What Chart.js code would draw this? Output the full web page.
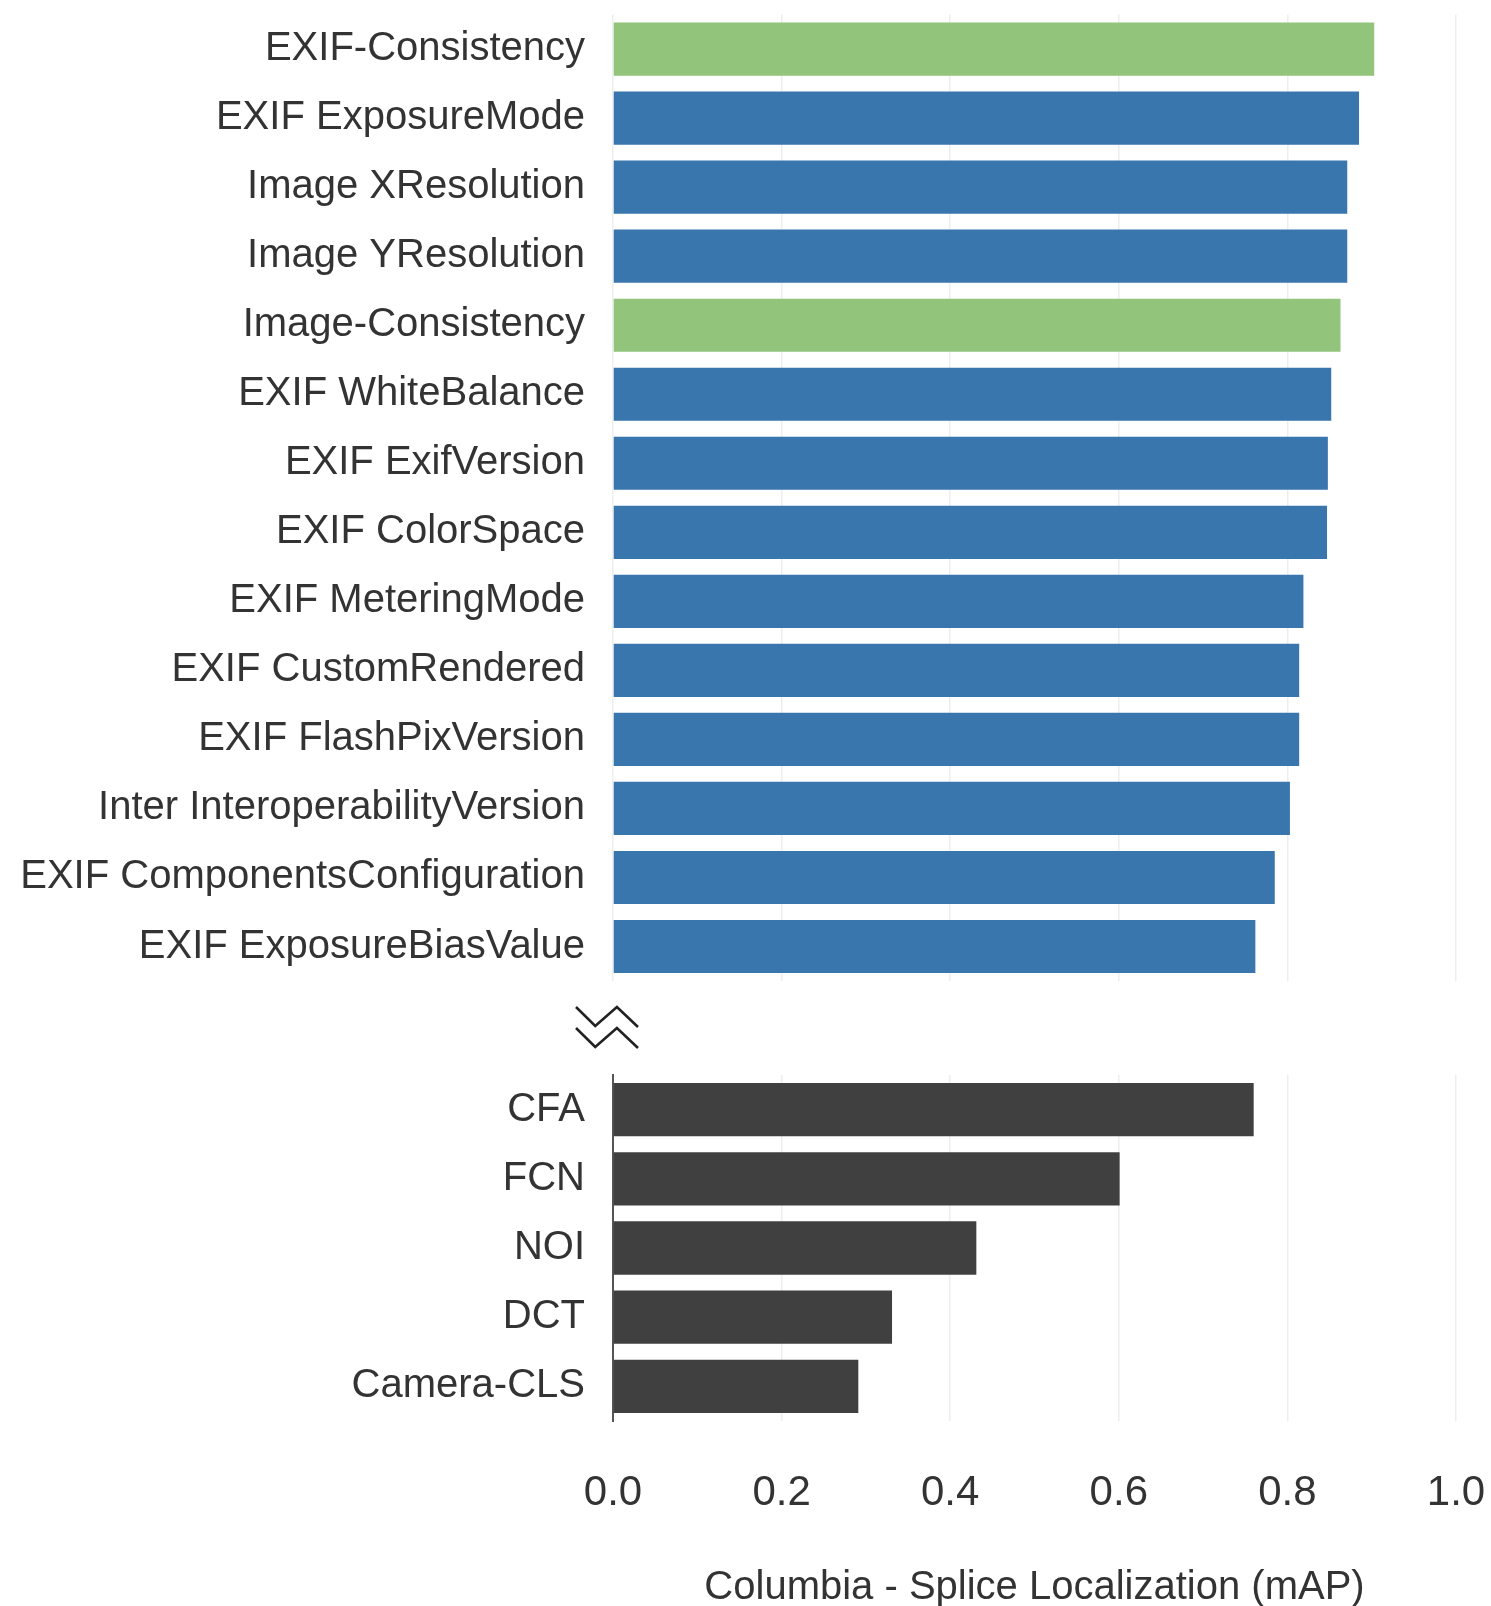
<!DOCTYPE html>
<html>
<head>
<meta charset="utf-8">
<script src="https://cdn.jsdelivr.net/npm/chart.js@4/dist/chart.umd.min.js"></script>
<style>
  html, body { margin: 0; padding: 0; background: #ffffff; width: 1491px; height: 1606px; overflow: hidden; }
  .wrap { position: absolute; left: 0; width: 1491px; }
</style>
</head>
<body>
<div class="wrap" style="top:0;height:1057px"><canvas id="topChart"></canvas></div>
<div class="wrap" style="top:1057px;height:549px"><canvas id="bottomChart"></canvas></div>
<script>
// ---- data ----
const topCategories = [
  'EXIF-Consistency', 'EXIF ExposureMode', 'Image XResolution', 'Image YResolution',
  'Image-Consistency', 'EXIF WhiteBalance', 'EXIF ExifVersion', 'EXIF ColorSpace',
  'EXIF MeteringMode', 'EXIF CustomRendered', 'EXIF FlashPixVersion',
  'Inter InteroperabilityVersion', 'EXIF ComponentsConfiguration', 'EXIF ExposureBiasValue'
];
const topValues = [0.903, 0.885, 0.871, 0.871, 0.863, 0.852, 0.848, 0.847, 0.819, 0.814, 0.814, 0.803, 0.785, 0.762];
const topIsConsistency = [true, false, false, false, true, false, false, false, false, false, false, false, false, false];

const bottomCategories = ['CFA', 'FCN', 'NOI', 'DCT', 'Camera-CLS'];
const bottomValues = [0.760, 0.601, 0.431, 0.331, 0.291];

const xTickLabels = ['0.0', '0.2', '0.4', '0.6', '0.8', '1.0'];
const xTitle = 'Columbia - Splice Localization (mAP)';

// ---- styles ----
const GREEN = '#92c47c';
const BLUE = '#3a76ae';
const DARK = '#404040';
const TEXT = '#333333';
const GRID = '#eeeeee';
const FONT = "'Liberation Sans', Arial, sans-serif";
const AXIS_LEFT = 613;

const yScaleBase = (showBorder) => ({
  ticks: { font: { family: FONT, size: 40 }, color: TEXT, padding: 28 },
  grid: { display: false, drawTicks: false },
  border: showBorder ? { display: true, color: '#555555', width: 2 } : { display: false },
  afterFit(scale) {
    scale.width = AXIS_LEFT;
    scale.paddingTop = 0;
    scale.paddingBottom = 0;
  }
});

const breakPlugin = {
  id: 'axisBreak',
  afterDraw(chart) {
    const a = chart.chartArea;
    const ctx = chart.ctx;
    const x0 = a.left - 37, w = 62, h = 20;
    ctx.save();
    ctx.strokeStyle = '#222222';
    ctx.lineWidth = 2.6;
    ctx.lineJoin = 'miter';
    [a.bottom + 26, a.bottom + 47].forEach(y0 => {
      ctx.beginPath();
      ctx.moveTo(x0, y0);
      ctx.lineTo(x0 + w * 0.31, y0 + h * 0.95);
      ctx.lineTo(x0 + w * 0.66, y0);
      ctx.lineTo(x0 + w, y0 + h);
      ctx.stroke();
    });
    ctx.restore();
  }
};

new Chart(document.getElementById('topChart'), {
  type: 'bar',
  data: {
    labels: topCategories,
    datasets: [{
      data: topValues,
      backgroundColor: topIsConsistency.map(c => c ? GREEN : BLUE),
      borderWidth: 0,
      barPercentage: 0.77,
      categoryPercentage: 1.0
    }]
  },
  options: {
    indexAxis: 'y',
    responsive: true,
    maintainAspectRatio: false,
    animation: false,
    layout: { padding: { top: 14.6, right: 35, bottom: 76, left: 0 } },
    plugins: { legend: { display: false }, tooltip: { enabled: false } },
    scales: {
      x: {
        min: 0, max: 1,
        ticks: { display: false, stepSize: 0.2 },
        grid: { color: GRID, lineWidth: 1.5, drawTicks: false },
        border: { display: false },
        afterFit(scale) { scale.height = 0; scale.paddingLeft = 0; scale.paddingRight = 0; }
      },
      y: yScaleBase(false)
    }
  },
  plugins: [breakPlugin]
});

new Chart(document.getElementById('bottomChart'), {
  type: 'bar',
  data: {
    labels: bottomCategories,
    datasets: [{
      data: bottomValues,
      backgroundColor: DARK,
      borderWidth: 0,
      barPercentage: 0.77,
      categoryPercentage: 1.0
    }]
  },
  options: {
    indexAxis: 'y',
    responsive: true,
    maintainAspectRatio: false,
    animation: false,
    layout: { padding: { top: 18, right: 35, bottom: 0, left: 0 } },
    plugins: { legend: { display: false }, tooltip: { enabled: false } },
    scales: {
      x: {
        min: 0, max: 1,
        ticks: {
          stepSize: 0.2,
          maxRotation: 0,
          font: { family: FONT, size: 42, lineHeight: 1.2 },
          color: TEXT,
          padding: 47.5,
          callback: (v, i) => xTickLabels[i]
        },
        grid: { color: GRID, lineWidth: 1.5, drawTicks: false },
        border: { display: false },
        title: {
          display: true,
          text: xTitle,
          color: TEXT,
          font: { family: FONT, size: 40, lineHeight: 0.8 },
          padding: { top: 0, bottom: 2 }
        },
        afterFit(scale) { scale.height = 185; scale.paddingLeft = 0; scale.paddingRight = 0; }
      },
      y: yScaleBase(true)
    }
  }
});
</script>
</body>
</html>
